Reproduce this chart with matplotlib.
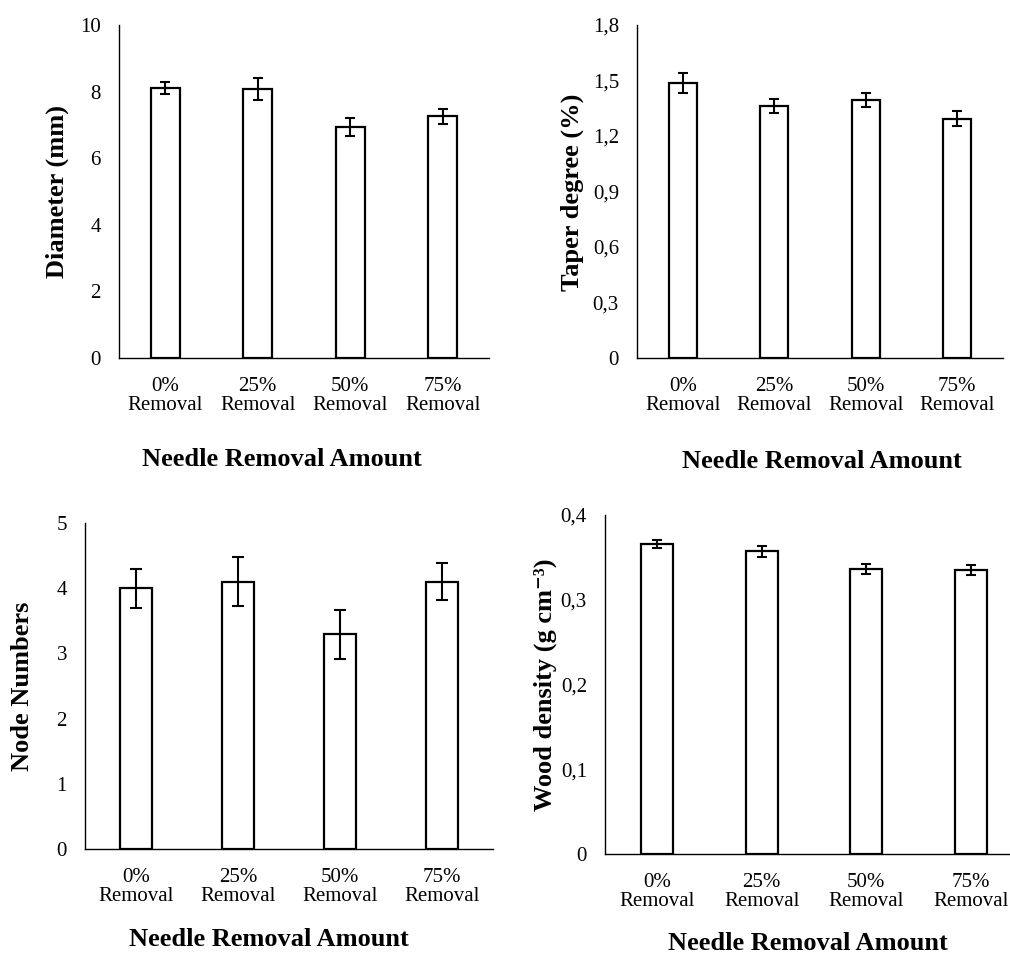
import matplotlib.pyplot as plt

plt.rcParams["font.family"] = ["Liberation Serif", "DejaVu Serif"]

# data
categories = ["0%\nRemoval", "25%\nRemoval", "50%\nRemoval", "75%\nRemoval"]

diameter = [8.11, 8.09, 6.93, 7.26]
diameter_err = [0.17, 0.33, 0.27, 0.23]

taper = [1.486, 1.362, 1.395, 1.294]
taper_err = [0.052, 0.04, 0.036, 0.04]

nodes = [4.00, 4.10, 3.29, 4.10]
nodes_err = [0.30, 0.38, 0.37, 0.28]

density = [0.366, 0.357, 0.336, 0.335]
density_err = [0.005, 0.007, 0.006, 0.006]

diameter_ticks = [0, 2, 4, 6, 8, 10]
diameter_labels = ["0", "2", "4", "6", "8", "10"]
taper_ticks = [0, 0.3, 0.6, 0.9, 1.2, 1.5, 1.8]
taper_labels = ["0", "0,3", "0,6", "0,9", "1,2", "1,5", "1,8"]
nodes_ticks = [0, 1, 2, 3, 4, 5]
nodes_labels = ["0", "1", "2", "3", "4", "5"]
density_ticks = [0, 0.1, 0.2, 0.3, 0.4]
density_labels = ["0", "0,1", "0,2", "0,3", "0,4"]

W, H = 1010, 965
fig = plt.figure(figsize=(W / 100, H / 100), dpi=100)


def px_axes(left, right, top, bottom):
    return fig.add_axes([left / W, 1 - bottom / H, (right - left) / W, (bottom - top) / H])


def bar_panel(ax, values, errs, ticks, tick_labels, cap):
    x = range(len(categories))
    ax.bar(x, values, width=0.31, color="white", edgecolor="black", linewidth=1.6)
    ax.errorbar(x, values, yerr=errs, fmt="none", ecolor="black", elinewidth=1.5,
                capsize=cap, capthick=1.5)
    ax.set_xlim(-0.5, 3.5)
    ax.set_ylim(ticks[0], ticks[-1])
    ax.set_yticks(ticks)
    ax.set_yticklabels(tick_labels)
    ax.set_xticks(list(x))
    ax.set_xticklabels(categories, linespacing=1.0)
    ax.spines["top"].set_visible(False)
    ax.spines["right"].set_visible(False)
    ax.spines["left"].set_linewidth(1.0)
    ax.spines["bottom"].set_linewidth(1.0)
    ax.tick_params(axis="y", length=0, pad=13, labelsize=15)
    ax.tick_params(axis="x", length=0, pad=14, labelsize=15)


ax1 = px_axes(119, 489, 25, 358)
bar_panel(ax1, diameter, diameter_err, diameter_ticks, diameter_labels, 3.6)

ax2 = px_axes(637, 1003, 25, 358)
bar_panel(ax2, taper, taper_err, taper_ticks, taper_labels, 3.6)

ax3 = px_axes(85, 493, 523, 849)
bar_panel(ax3, nodes, nodes_err, nodes_ticks, nodes_labels, 4.3)

ax4 = px_axes(605, 1023, 515, 854)
bar_panel(ax4, density, density_err, density_ticks, density_labels, 3.6)

# axis titles
lab = dict(fontsize=19, fontweight="bold", ha="center", va="center")
fig.text(282 / W, 1 - 460 / H, "Needle Removal Amount", **lab)
fig.text(822 / W, 1 - 462 / H, "Needle Removal Amount", **lab)
fig.text(269 / W, 1 - 940 / H, "Needle Removal Amount", **lab)
fig.text(808 / W, 1 - 943 / H, "Needle Removal Amount", **lab)

fig.text(57 / W, 1 - 192 / H, "Diameter (mm)", rotation=90, **lab)
fig.text(572 / W, 1 - 192 / H, "Taper degree (%)", rotation=90, **lab)
fig.text(23 / W, 1 - 686 / H, "Node Numbers", rotation=90, **lab)
fig.text(545 / W, 1 - 685 / H, "Wood density (g cm\u207b\u00b3)", rotation=90, **lab)

plt.savefig("out.png", dpi=100)
